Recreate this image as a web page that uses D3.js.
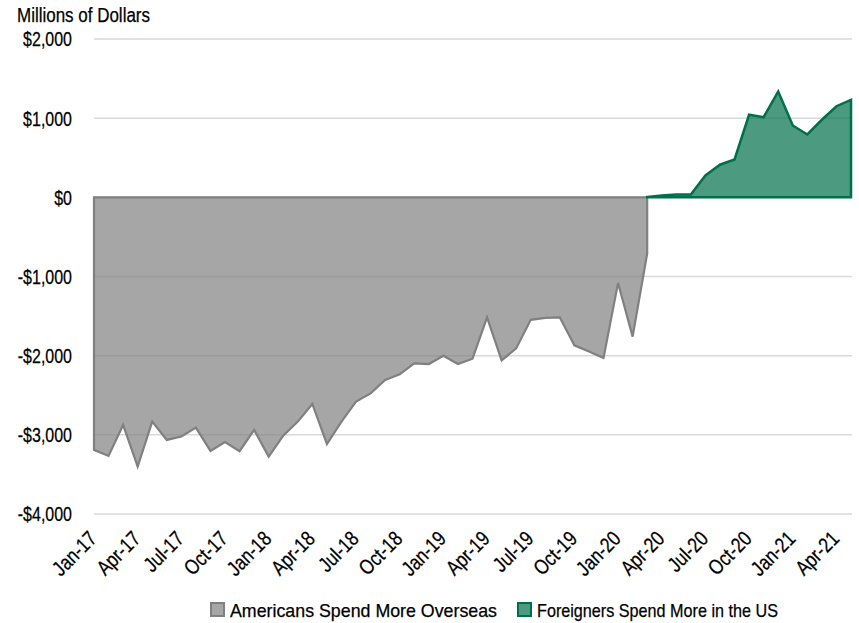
<!DOCTYPE html>
<html>
<head>
<meta charset="utf-8">
<script src="https://cdn.jsdelivr.net/npm/d3@7"></script>
<style>
  html, body { margin: 0; padding: 0; background: #fff; }
  svg text { font-family: "Liberation Sans", Arial, sans-serif; fill: #000; stroke: #000; stroke-width: 0.25px; }
</style>
</head>
<body>
<svg id="chart" width="859" height="623"></svg>
<script>
const months = ["Jan-17","Feb-17","Mar-17","Apr-17","May-17","Jun-17","Jul-17","Aug-17","Sep-17","Oct-17","Nov-17","Dec-17",
  "Jan-18","Feb-18","Mar-18","Apr-18","May-18","Jun-18","Jul-18","Aug-18","Sep-18","Oct-18","Nov-18","Dec-18",
  "Jan-19","Feb-19","Mar-19","Apr-19","May-19","Jun-19","Jul-19","Aug-19","Sep-19","Oct-19","Nov-19","Dec-19",
  "Jan-20","Feb-20","Mar-20","Apr-20","May-20","Jun-20","Jul-20","Aug-20","Sep-20","Oct-20","Nov-20","Dec-20",
  "Jan-21","Feb-21","Mar-21","Apr-21","May-21"];

// Americans Spend More Overseas (Jan-17 .. Mar-20)
const americans = [-3190,-3266,-2875,-3400,-2833,-3064,-3022,-2909,-3203,-3090,-3207,-2938,
  -3275,-3010,-2833,-2610,-3117,-2833,-2581,-2476,-2308,-2236,-2097,-2106,
  -2001,-2106,-2039,-1517,-2060,-1908,-1547,-1522,-1517,-1870,-1946,-2030,
  -1081,-1759,-710];

// Foreigners Spend More in the US (Mar-20 .. May-21)
const foreigners = [5,22,36,36,277,412,479,1043,1013,1337,908,794,980,1151,1232];
const foreignersStart = "Mar-20";

const tickLabels = ["Jan-17","Apr-17","Jul-17","Oct-17","Jan-18","Apr-18","Jul-18","Oct-18",
  "Jan-19","Apr-19","Jul-19","Oct-19","Jan-20","Apr-20","Jul-20","Oct-20","Jan-21","Apr-21"];
const yTicks = [2000,1000,0,-1000,-2000,-3000,-4000];
const seriesNames = ["Americans Spend More Overseas","Foreigners Spend More in the US"];

const svg = d3.select("#chart");
const x = d3.scalePoint().domain(months).range([94, 851]);
const y = d3.scaleLinear().domain([-4000, 2000]).range([514, 39]);

// gridlines
svg.append("g").selectAll("line").data(yTicks).join("line")
  .attr("x1", 94).attr("x2", 852)
  .attr("y1", d => y(d)).attr("y2", d => y(d))
  .attr("stroke", "#d9d9d9").attr("stroke-width", 1.5);

// y labels
const fmt = d => (d < 0 ? "-$" : "$") + d3.format(",")(Math.abs(d));
svg.append("g").selectAll("text").data(yTicks).join("text")
  .attr("transform", d => `translate(72,${y(d)}) scale(0.78,1)`)
  .attr("dy", "0.36em")
  .attr("text-anchor", "end").attr("font-size", 20.5)
  .text(fmt);

// title
svg.append("text").attr("x", 17).attr("y", 22).attr("font-size", 20)
  .attr("textLength", 133).attr("lengthAdjust", "spacingAndGlyphs")
  .text("Millions of Dollars");

const grayData = americans.map((v, i) => ({m: months[i], v}));
const startIdx = months.indexOf(foreignersStart);
const greenData = foreigners.map((v, i) => ({m: months[startIdx + i], v}));

const area = d3.area().x(d => x(d.m)).y0(y(0)).y1(d => y(d.v));

svg.append("path").datum(grayData).attr("d", area)
  .attr("fill", "#808080").attr("fill-opacity", 0.7)
  .attr("stroke", "#808080").attr("stroke-width", 2.2).attr("stroke-linejoin", "miter");

svg.append("path").datum(greenData).attr("d", area)
  .attr("fill", "#00704a").attr("fill-opacity", 0.7)
  .attr("stroke", "#00704a").attr("stroke-width", 2.5).attr("stroke-linejoin", "miter");

// x labels
svg.append("g").selectAll("text").data(tickLabels).join("text")
  .attr("transform", d => `translate(${x(d) + 4},540) rotate(-45) scale(0.82,1)`)
  .attr("text-anchor", "end").attr("font-size", 21)
  .text(d => d);

// legend
const legend = [
  {name: seriesNames[0], fill: "#808080", bx: 210, tx: 230, tl: 267},
  {name: seriesNames[1], fill: "#00704a", bx: 517, tx: 537, tl: 241}
];
const lg = svg.append("g").selectAll("g").data(legend).join("g");
lg.append("rect").attr("x", d => d.bx + 1).attr("y", 603).attr("width", 13).attr("height", 13)
  .attr("fill", d => d.fill).attr("fill-opacity", 0.7)
  .attr("stroke", d => d.fill).attr("stroke-width", 2);
lg.append("text").attr("x", d => d.tx).attr("y", 617).attr("font-size", 19)
  .attr("textLength", d => d.tl).attr("lengthAdjust", "spacingAndGlyphs")
  .text(d => d.name);
</script>
</body>
</html>
